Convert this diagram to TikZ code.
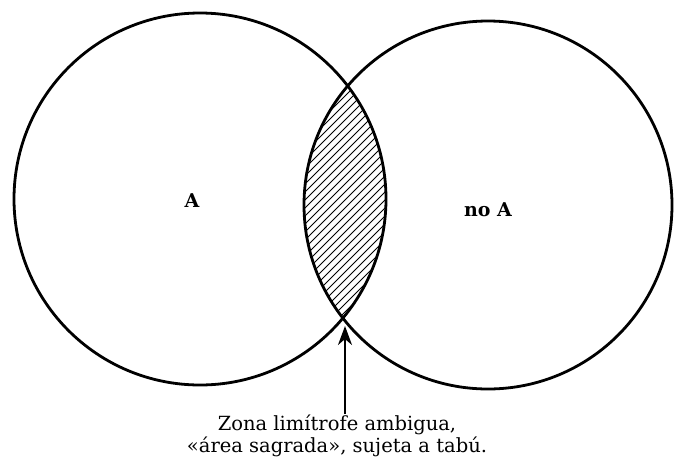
\documentclass[tikz,border=0pt]{standalone}
\usepackage{fontspec}
\setmainfont{DejaVu Serif}
\usetikzlibrary{arrows.meta}
\begin{document}
\begin{tikzpicture}[x=1pt,y=-1pt,
  ring/.style={draw=black,line width=2.8pt},
  hatch/.style={draw=black,line width=1pt},
  lbl/.style={font=\bfseries\fontsize{19}{22}\selectfont,inner sep=0pt},
  note/.style={font=\fontsize{19.5}{22}\selectfont,align=center,inner sep=0pt},
  pointer/.style={line width=2pt,-{Stealth[length=19pt,width=14pt,inset=6pt]}}]
\useasboundingbox (0,0) rectangle (676,461);
\coordinate (cl) at (200,199);
\coordinate (cr) at (488,205);
\begin{scope}
  \clip (cl) circle[radius=186];
  \clip (cr) circle[radius=184];
  \foreach \k in {-200,-192,...,200}{
    \draw[hatch] (345+\k-150,200+150) -- (345+\k+150,200-150);
  }
\end{scope}
\draw[ring] (cl) circle[radius=186];
\draw[ring] (cr) circle[radius=184];
\node[lbl] (a) at (192,201) {A};
\node[lbl] (na) at (488,210) {no A};
\node[note] (t) at (337,436) {Zona limítrofe ambigua,\\«área sagrada», sujeta a tabú.};
\coordinate (tip) at (345,326);
\coordinate (foot) at (345,414);
\draw[pointer] (foot) -- (tip);
\end{tikzpicture}
\end{document}
